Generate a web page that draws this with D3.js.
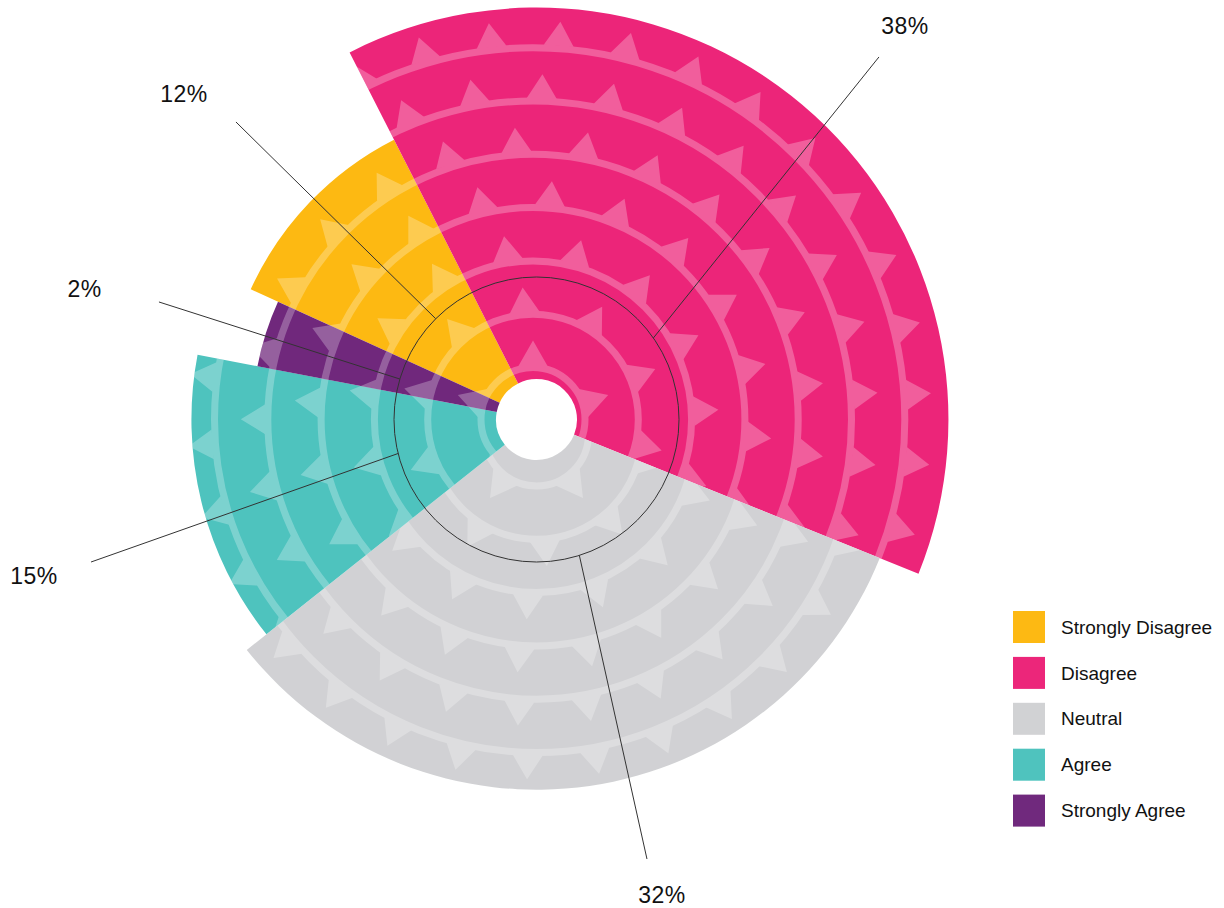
<!DOCTYPE html>
<html><head><meta charset="utf-8">
<script src="https://cdn.jsdelivr.net/npm/d3@7"></script>
<style>
html,body{margin:0;padding:0;background:#fff;}
svg{display:block;font-family:"Liberation Sans", Arial, Helvetica, sans-serif;}
</style>
</head><body>
<svg id="chart" width="1224" height="908"></svg>
<script>
// ---- data ----
const categories    = ["Strongly Disagree", "Disagree", "Neutral", "Agree", "Strongly Agree"];
const percentLabels = ["12%", "38%", "32%", "15%", "2%"];
// share of the full circle swept by each wedge (as drawn)
const sweepShare    = [10.7, 38.6, 33.2, 13.7, 3.8];
// outer reach of each wedge, in pattern-band units
const reach         = [5.87, 7.70, 6.92, 6.45, 5.31];
const colors        = ["#FDB913", "#EC267A", "#D1D2D4", "#4FC3BE", "#70297D"];

// ---- layout ----
const cx = 536.5, cy = 419.5;
const holeR = 40.5;
const guideR = 142.5;
const deg = Math.PI / 180;
const startDeg = -65.5;

const svg = d3.select("#chart");
const rScale = d3.scaleLinear().domain([0, 8]).range([0, 428]);

const pie = d3.pie().sort(null).value(d => d)
  .startAngle(startDeg * deg).endAngle((startDeg + 360) * deg);
const arcs = pie(sweepShare);
const arc = d3.arc().innerRadius(holeR).outerRadius(d => rScale(reach[d.index]));

const defs = svg.append("defs");
const root = svg.append("g").attr("transform", `translate(${cx},${cy})`);

// pattern offsets per wedge (texture centre shift)
const patternShift = [[-3.5, 0], [-3.5, 0], [0, 14.5], [-3.5, 0], [-3.5, 0]];
const ringRadii = d3.range(0, 8).map(k => 52 + 53.3 * k);

arcs.forEach((d, i) => {
  defs.append("clipPath").attr("id", "clip" + i)
    .append("path").attr("d", arc(d));
  root.append("path").attr("d", arc(d)).attr("fill", colors[i]);

  const g = root.append("g").attr("clip-path", `url(#clip${i})`);
  const pg = g.append("g").attr("opacity", 0.26)
    .attr("transform", `translate(${patternShift[i][0]},${patternShift[i][1]})`);
  ringRadii.forEach((r, k) => {
    pg.append("circle").attr("r", r).attr("fill", "none")
      .attr("stroke", "#fff").attr("stroke-width", 7);
    const rb = r + 3;
    const n = Math.round(2 * Math.PI * r / 67);
    const phase = (k * 0.55) % (2 * Math.PI / n);
    const tri = d3.range(n).map(j => {
      const t = phase + j * 2 * Math.PI / n;
      const hw = 15 / rb;
      const p1 = d3.pointRadial(t - hw, rb);
      const p2 = d3.pointRadial(t + hw, rb);
      const p3 = d3.pointRadial(t, rb + 24);
      return `M${p1[0]},${p1[1]}L${p3[0]},${p3[1]}L${p2[0]},${p2[1]}Z`;
    }).join("");
    pg.append("path").attr("d", tri).attr("fill", "#fff");
  });
});

// guide circle
root.append("circle").attr("r", guideR).attr("fill", "none")
  .attr("stroke", "#333").attr("stroke-width", 1);

// leader lines + labels
const labelLayout = [
  { i: 1, a1: 55.1,  a2: 43.37,  r2: 498.7, tx: 905, ty: 34 },
  { i: 0, a1: 315.0, a2: 314.71, r2: 422.9, tx: 184, ty: 102 },
  { i: 4, a1: 286.5, a2: 287.29, r2: 395.4, tx: 84.5, ty: 297 },
  { i: 3, a1: 256.2, a2: 252.26, r2: 467.7, tx: 34,  ty: 584 },
  { i: 2, a1: 162.5, a2: 165.89, r2: 453.2, tx: 662, ty: 903 }
];
labelLayout.forEach(L => {
  const p1 = d3.pointRadial(L.a1 * deg, guideR);
  const p2 = d3.pointRadial(L.a2 * deg, L.r2);
  root.append("line")
    .attr("x1", p1[0]).attr("y1", p1[1]).attr("x2", p2[0]).attr("y2", p2[1])
    .attr("stroke", "#333").attr("stroke-width", 1);
  svg.append("text").attr("x", L.tx).attr("y", L.ty)
    .attr("text-anchor", "middle").attr("font-size", 23)
    .attr("letter-spacing", 0.5).attr("fill", "#111")
    .text(percentLabels[L.i]);
});

// legend
const legend = svg.append("g").attr("transform", "translate(1013,611)");
categories.forEach((c, i) => {
  const y = i * 45.9;
  legend.append("rect").attr("x", 0).attr("y", y).attr("width", 32).attr("height", 32)
    .attr("fill", colors[i]);
  legend.append("text").attr("x", 48).attr("y", y + 16).attr("dy", "0.35em")
    .attr("font-size", 19).attr("fill", "#111").text(c);
});
</script>
</body></html>
